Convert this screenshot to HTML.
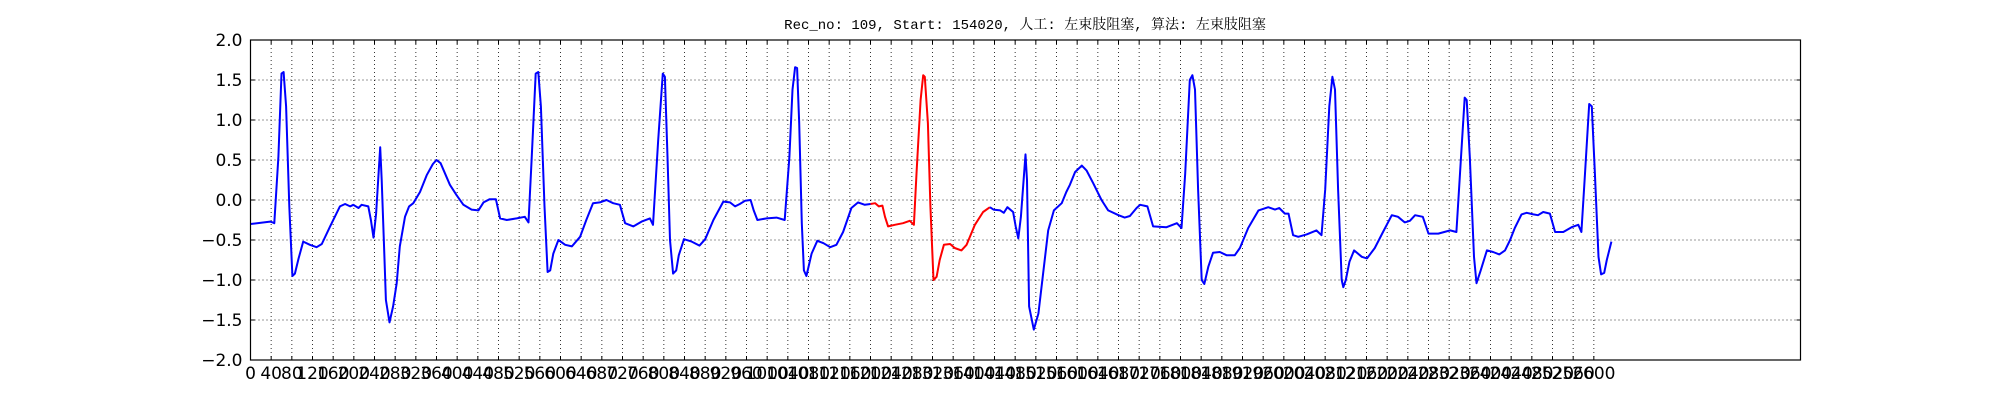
<!DOCTYPE html>
<html><head><meta charset="utf-8">
<style>
html,body{margin:0;padding:0;background:#fff;width:2000px;height:400px;overflow:hidden}
svg{display:block}
</style></head>
<body>
<svg id="chart" width="2000" height="400" xmlns="http://www.w3.org/2000/svg">
<rect x="0" y="0" width="2000" height="400" fill="#fff"/>
<text x="1025" y="29" text-anchor="middle" font-family="'Liberation Mono','Noto Serif CJK SC',monospace" font-size="14" fill="#000">Rec_no: 109, Start: 154020, 人工: 左束肢阻塞, 算法: 左束肢阻塞</text>
<g id="grid"></g>
<g id="ticks"></g>
<g id="series"></g>
<rect x="250.5" y="40" width="1550" height="320" fill="none" stroke="#000" stroke-width="1.2"/>
</svg>
<script>
const samples = [0,38,43,46,54,60,64,69,75,81,86,93,102,115,128,138,154,173,183,193,199,209,215,228,233,238,243,251,254,259,262,269,276,283,289,299,307,315,328,341,353,360,368,386,399,412,428,441,451,463,475,483,496,515,531,538,544,552,557,562,569,575,580,586,596,609,622,638,650,663,676,689,702,715,725,741,757,773,779,789,798,802,807,812,818,824,829,839,854,869,880,896,915,928,938,947,957,968,974,981,999,1018,1034,1043,1049,1054,1058,1062,1067,1071,1076,1086,1097,1109,1122,1134,1147,1163,1176,1189,1200,1209,1216,1223,1228,1234,1247,1263,1276,1284,1289,1297,1302,1305,1311,1316,1322,1328,1334,1342,1354,1363,1376,1386,1402,1418,1431,1438,1451,1458,1465,1476,1481,1486,1491,1500,1503,1507,1516,1525,1534,1544,1555,1570,1579,1586,1596,1609,1618,1631,1647,1660,1680,1692,1702,1715,1722,1736,1747,1773,1793,1802,1809,1818,1823,1828,1834,1841,1846,1854,1863,1876,1889,1905,1915,1931,1951,1970,1983,1991,2002,2009,2018,2028,2044,2063,2073,2080,2088,2094,2099,2105,2112,2115,2120,2127,2136,2151,2161,2176,2192,2209,2221,2234,2244,2254,2269,2280,2299,2322,2334,2341,2350,2354,2360,2368,2373,2381,2393,2405,2417,2428,2438,2447,2460,2470,2483,2492,2502,2515,2525,2541,2557,2570,2576,2583,2591,2596,2602,2609,2614,2620,2625,2634];
const values = [-0.30,-0.27,-0.28,-0.29,0.54,1.58,1.60,1.17,-0.08,-0.95,-0.92,-0.73,-0.52,-0.56,-0.59,-0.55,-0.33,-0.08,-0.05,-0.08,-0.06,-0.10,-0.06,-0.08,-0.25,-0.47,-0.17,0.66,0.25,-0.67,-1.25,-1.53,-1.33,-1.04,-0.58,-0.21,-0.08,-0.04,0.10,0.31,0.45,0.50,0.46,0.19,0.06,-0.06,-0.12,-0.13,-0.03,0.01,0.01,-0.23,-0.25,-0.23,-0.21,-0.28,0.50,1.58,1.60,1.17,-0.08,-0.90,-0.88,-0.67,-0.50,-0.56,-0.58,-0.46,-0.25,-0.04,-0.03,0.00,-0.04,-0.06,-0.29,-0.33,-0.27,-0.23,-0.31,0.75,1.58,1.54,0.54,-0.50,-0.92,-0.88,-0.69,-0.49,-0.52,-0.57,-0.49,-0.25,-0.02,-0.03,-0.08,-0.05,-0.01,0.00,-0.13,-0.25,-0.23,-0.22,-0.25,0.54,1.38,1.66,1.65,0.96,-0.29,-0.88,-0.95,-0.67,-0.51,-0.54,-0.59,-0.56,-0.40,-0.10,-0.03,-0.06,-0.05,-0.04,-0.08,-0.07,-0.21,-0.33,-0.31,-0.29,-0.26,-0.31,0.33,1.25,1.56,1.54,0.96,-0.08,-1.00,-0.96,-0.75,-0.56,-0.55,-0.60,-0.63,-0.56,-0.31,-0.15,-0.09,-0.12,-0.13,-0.16,-0.09,-0.15,-0.33,-0.48,-0.21,0.57,0.25,-1.33,-1.62,-1.42,-0.92,-0.38,-0.13,-0.04,0.10,0.19,0.35,0.43,0.37,0.21,0.00,-0.13,-0.19,-0.22,-0.20,-0.10,-0.06,-0.08,-0.33,-0.34,-0.29,-0.35,0.33,1.50,1.56,1.38,0.13,-1.00,-1.05,-0.83,-0.66,-0.65,-0.69,-0.69,-0.60,-0.35,-0.13,-0.09,-0.12,-0.10,-0.17,-0.17,-0.44,-0.46,-0.43,-0.38,-0.44,0.13,1.17,1.54,1.38,0.13,-1.00,-1.09,-1.00,-0.77,-0.63,-0.71,-0.73,-0.60,-0.40,-0.19,-0.21,-0.28,-0.26,-0.19,-0.21,-0.42,-0.42,-0.38,-0.40,0.33,1.28,1.25,0.54,-0.71,-1.04,-0.88,-0.63,-0.65,-0.68,-0.63,-0.50,-0.35,-0.18,-0.16,-0.18,-0.19,-0.15,-0.17,-0.40,-0.40,-0.34,-0.31,-0.40,0.33,1.20,1.17,0.33,-0.71,-0.93,-0.91,-0.75,-0.52];
const highlightRange = [1200, 1431];
const xTicks = [];
for (let t = 0; t <= 2600; t += 40) xTicks.push(t);
const yTicks = [-2.0,-1.5,-1.0,-0.5,0.0,0.5,1.0,1.5,2.0];
const yTickLabels = ["\u22122.0","\u22121.5","\u22121.0","\u22120.5","0.0","0.5","1.0","1.5","2.0"];

const L = 250.5, T = 40, W = 1550, H = 320, XMAX = 3000, YMIN = -2, YMAX = 2;
const NS = "http://www.w3.org/2000/svg";
function xs(s){ return L + s / XMAX * W; }
function ys(v){ return T + (YMAX - v) / (YMAX - YMIN) * H; }
function mk(tag, attrs, parent){
  const e = document.createElementNS(NS, tag);
  for (const k in attrs) e.setAttribute(k, attrs[k]);
  parent.appendChild(e);
  return e;
}
const grid = document.getElementById('grid');
const ticks = document.getElementById('ticks');
const series = document.getElementById('series');

xTicks.forEach(t => {
  const x = xs(t);
  const g = mk('line', {x1:x, x2:x, y1:T, y2:T+H, stroke:'#000', 'stroke-width':1, 'stroke-dasharray':'1,3', opacity:0.8}, grid);
  
  
  const tk1 = mk('line', {x1:x, x2:x, y1:T+H, y2:T+H-4, stroke:'#000', 'stroke-width':1}, ticks);
  
  
  const tk2 = mk('line', {x1:x, x2:x, y1:T, y2:T+4, stroke:'#000', 'stroke-width':1}, ticks);
  
  
  const lb = mk('text', {x:x, y:T+H+19, 'text-anchor':'middle', 'font-family':"'DejaVu Sans','Liberation Sans',sans-serif", 'font-size':17, fill:'#000'}, ticks);
  lb.textContent = String(t);
  
  
});
yTicks.forEach((v, i) => {
  const y = ys(v);
  if (i > 0 && i < yTicks.length - 1) {
    const g = mk('line', {x1:L, x2:L+W, y1:y, y2:y, stroke:'#000', 'stroke-width':1, 'stroke-dasharray':'1,3', opacity:0.8}, grid);
    
    
  }
  const tk1 = mk('line', {x1:L, x2:L+4, y1:y, y2:y, stroke:'#000', 'stroke-width':1}, ticks);
  
  
  const tk2 = mk('line', {x1:L+W, x2:L+W-4, y1:y, y2:y, stroke:'#000', 'stroke-width':1}, ticks);
  
  
  const lb = mk('text', {x:L-8, y:y+6, 'text-anchor':'end', 'font-family':"'DejaVu Sans','Liberation Sans',sans-serif", 'font-size':17, fill:'#000'}, ticks);
  lb.textContent = yTickLabels[i];
  
  
});

function pts(filter){
  const p = [];
  for (let i = 0; i < samples.length; i++) if (filter(samples[i])) p.push(xs(samples[i]).toFixed(1) + ',' + ys(values[i]).toFixed(1));
  return p.join(' ');
}
const a = highlightRange[0], b = highlightRange[1];
const blue1 = mk('polyline', {points: pts(s => s <= a), fill:'none', stroke:'#0000ff', 'stroke-width':2, 'stroke-linejoin':'round'}, series);


const red = mk('polyline', {points: pts(s => s >= a && s <= b), fill:'none', stroke:'#ff0000', 'stroke-width':2, 'stroke-linejoin':'round'}, series);


const blue2 = mk('polyline', {points: pts(s => s >= b), fill:'none', stroke:'#0000ff', 'stroke-width':2, 'stroke-linejoin':'round'}, series);


</script>
</body></html>
